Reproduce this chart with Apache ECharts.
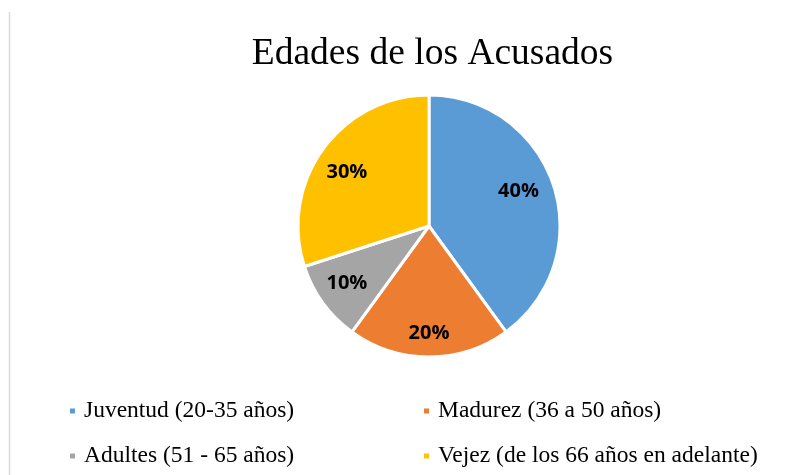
<!DOCTYPE html>
<html><head><meta charset="utf-8">
<script src="https://cdn.jsdelivr.net/npm/echarts@6/dist/echarts.min.js"></script>
<style>html,body{margin:0;padding:0;background:#fff}#c{width:800px;height:475px}</style>
</head><body><div id="c"></div>
<script>
const titleText = "Edades de los Acusados";
const categories = ["Juventud (20-35 años)", "Madurez (36 a 50 años)", "Adultes (51 - 65 años)", "Vejez (de los 66 años en adelante)"];
const values = [40, 20, 10, 30];
const colors = ["#5B9BD5", "#ED7D31", "#A5A5A5", "#FFC000"];
const labelOffsets = [[-7, -3], [0, 6], [0, -2], [0, 6]];

const chart = echarts.init(document.getElementById('c'));
const data = categories.map((n, i) => ({ name: n, value: values[i], itemStyle: { color: colors[i] } }));
const legendText = { fontFamily: "Liberation Serif", fontSize: 23.5, color: "#000", padding: [0, 0, 0, 3] };
chart.setOption({
  animation: false,
  title: { text: titleText, left: 427.5, top: 30, textAlign: 'center',
    textStyle: { fontFamily: "Liberation Serif", fontWeight: 'normal', fontSize: 37.5, color: "#000" } },
  graphic: [{ type: 'line', shape: { x1: 9.5, y1: 12, x2: 9.5, y2: 475 }, style: { stroke: '#d9d9d9', lineWidth: 1.5 } }],
  legend: [
    { data: [categories[0], categories[2]], orient: 'vertical', left: 68, top: 399, height: 120, padding: 0, itemGap: 21,
      icon: 'rect', itemWidth: 7, itemHeight: 7, textStyle: legendText, selectedMode: false },
    { data: [categories[1], categories[3]], orient: 'vertical', left: 422, top: 399, height: 120, padding: 0, itemGap: 21,
      icon: 'rect', itemWidth: 7, itemHeight: 7, textStyle: legendText, selectedMode: false }
  ],
  series: [
    { type: 'pie', center: [429, 226], radius: [0, 131], startAngle: 90, data: data,
      label: { show: false }, labelLine: { show: false },
      itemStyle: { borderColor: '#fff', borderWidth: 3 }, emphasis: { disabled: true } },
    { type: 'pie', center: [429, 226], radius: [66, 131], startAngle: 90, silent: true,
      data: categories.map((n, i) => ({ name: n + ' ', value: values[i], label: { offset: labelOffsets[i] } })),
      itemStyle: { color: 'rgba(0,0,0,0)' },
      label: { show: true, position: 'inside', formatter: p => p.value + '%',
        fontFamily: "Open Sans", fontWeight: 'bold', fontSize: 20, color: '#000' },
      labelLine: { show: false }, emphasis: { disabled: true } }
  ]
});
</script></body></html>
